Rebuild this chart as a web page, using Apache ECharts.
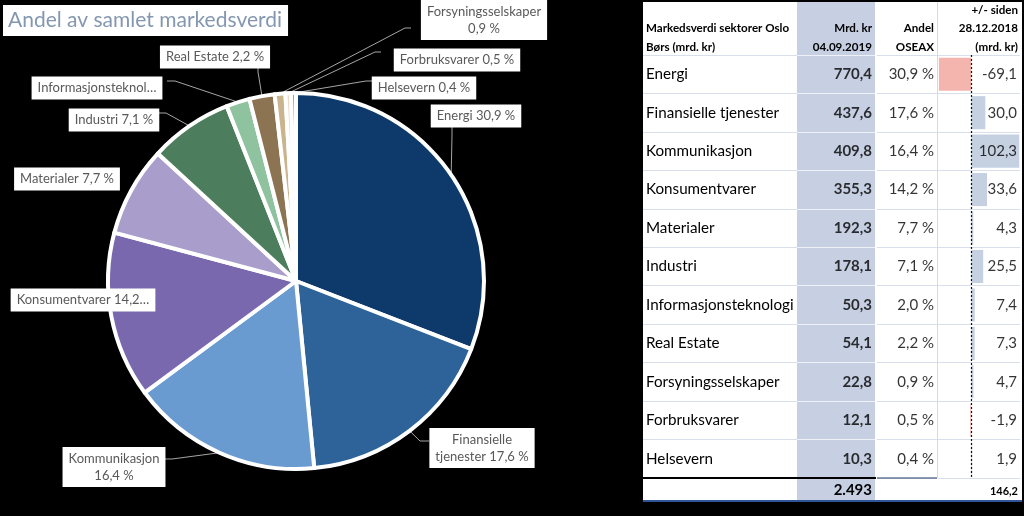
<!DOCTYPE html>
<html><head><meta charset="utf-8">
<script src="https://cdn.jsdelivr.net/npm/echarts@6/dist/echarts.min.js"></script>
<style>html,body{margin:0;padding:0;background:#000;}#c{width:1024px;height:516px;}</style>
</head><body><div id="c"></div>
<script>
// ---------- data ----------
const sectors = ['Energi','Finansielle tjenester','Kommunikasjon','Konsumentvarer','Materialer','Industri','Informasjonsteknologi','Real Estate','Forsyningsselskaper','Forbruksvarer','Helsevern'];
const marketValue = [770.4,437.6,409.8,355.3,192.3,178.1,50.3,54.1,22.8,12.1,10.3];
const shareOSEAX = [30.9,17.6,16.4,14.2,7.7,7.1,2.0,2.2,0.9,0.5,0.4];
const changeSince = [-69.1,30.0,102.3,33.6,4.3,25.5,7.4,7.3,4.7,-1.9,1.9];
const totals = ['2.493','146,2'];
const headerName = ['Markedsverdi sektorer Oslo','Børs (mrd. kr)'];
const headerMrd = ['Mrd. kr','04.09.2019'];
const headerAndel = ['Andel','OSEAX'];
const headerChange = ['+/- siden','28.12.2018','(mrd. kr)'];
const chartTitle = 'Andel av samlet markedsverdi';

// ---------- styles / layout ----------
const FONT = 'Lato';
const pieColors = ['#0E3A6B','#2E6399','#6A9BD0','#7A68AE','#A99DCB','#4C7D5C','#8FC29F','#8C7352','#C9B48E','#EADCC8','#E06666'];
const SHADE = '#C6D0E2';
const POS = '#C5D0E1', NEG = '#F4B5AF';
const fmt1 = v => v.toFixed(1).replace('.', ',');
const fmtPct = v => fmt1(v) + ' %';

// label placement (box centre, text mode, guide line elbow/end)
const labelPlan = [
  {x:476, y:116, mode:'one',   line:[[452,135],[452,126]]},
  {x:482, y:448, mode:'word',  line:[[420,441],[429,441]]},
  {x:114, y:467, mode:'pct',   line:[[172,459],[164,459]]},
  {x:83,  y:300, mode:'cut19', line:null},
  {x:67,  y:179, mode:'one',   line:null},
  {x:114, y:120, mode:'one',   line:[[166,113],[159,113]]},
  {x:97,  y:88,  mode:'cut18', line:[[175,81],[167,81]]},
  {x:215, y:57,  mode:'one',   line:[[258,72],[258,68]]},
  {x:484, y:20,  mode:'pct',   line:[[405,28],[411,28]]},
  {x:457, y:60,  mode:'one',   line:[[375,52],[381,52]]},
  {x:424, y:88,  mode:'one',   line:[[366,81],[372,81]]}
];
function pieText(i){
  const name = sectors[i], pct = fmtPct(shareOSEAX[i]);
  const m = labelPlan[i].mode;
  if (m === 'word') { const k = name.indexOf(' '); return name.slice(0,k) + '\n' + name.slice(k+1) + ' ' + pct; }
  if (m === 'pct') return name + '\n' + pct;
  if (m.startsWith('cut')) { const n = +m.slice(3); return (name + ' ' + pct).slice(0, n) + '…'; }
  return name + ' ' + pct;
}

// table geometry
const T_TOP = 55, T_H = 423;
const cols = [
  {left:643, width:154},
  {left:797, width:78},
  {left:877, width:60},
  {left:938, width:82}
];
const CH_MIN = -71, CH_MAX = 104;

const grids = cols.map(c => ({left:c.left, top:T_TOP, width:c.width, height:T_H, outerBoundsMode:'none', containLabel:false}));
const yAxes = cols.map((c, i) => ({
  type:'category', gridIndex:i, data:sectors, inverse:true,
  axisLine:{show:false}, axisTick:{show:false},
  axisLabel:{show:i===0, inside:true, margin:3, interval:0, color:'#000', fontFamily:FONT, fontSize:15.2},
  splitLine:{show:true, interval:0, lineStyle:{color: i===1 ? '#EEF2F8' : '#D8DFEA', width:1}}
}));
const xAxes = cols.map((c, i) => ({
  type:'value', gridIndex:i, show:false,
  min: i===3 ? CH_MIN : 0, max: i===3 ? CH_MAX : 1,
  splitLine:{show:false}
}));

const textCol = (gi, xPos, arr, fmt, bold) => ({
  type:'scatter', xAxisIndex:gi, yAxisIndex:gi, symbolSize:0, silent:true,
  data: arr.map((v, i) => [xPos, i]),
  label:{show:true, position:'left', distance:3, color:'#000', fontFamily:FONT, fontSize:15,
         fontWeight: bold ? 'bold' : 'normal',
         formatter: p => fmt(arr[p.dataIndex])}
});

const hText = (t, x, y, align) => ({
  type:'text', z:5, silent:true,
  style:{text:t, x:x, y:y, align:align, verticalAlign:'middle', textAlign:align, textVerticalAlign:'middle',
         font:'bold 11.6px ' + FONT, fill:'#000'}
});

const graphics = [
  {type:'rect', z:-10, silent:true, shape:{x:643, y:2, width:379, height:500}, style:{fill:'#fff'}},
  {type:'rect', z:-9, silent:true, shape:{x:797, y:2, width:78, height:500}, style:{fill:SHADE}},
  {type:'line', z:1, silent:true, shape:{x1:937.5, y1:2, x2:937.5, y2:478}, style:{stroke:'#D3DAE5', lineWidth:1}},
  {type:'line', z:3, silent:true, shape:{x1:643, y1:478, x2:876, y2:478}, style:{stroke:'#000', lineWidth:2}},
  {type:'line', z:3, silent:true, shape:{x1:877, y1:478, x2:937, y2:478}, style:{stroke:'#1F3864', lineWidth:1}},
  {type:'line', z:3, silent:true, shape:{x1:643, y1:501, x2:1022, y2:501}, style:{stroke:'#2F5597', lineWidth:2}},
  hText(headerName[0], 646, 28, 'left'),
  hText(headerName[1], 646, 47, 'left'),
  hText(headerMrd[0], 872, 28, 'right'),
  hText(headerMrd[1], 872, 47, 'right'),
  hText(headerAndel[0], 934, 28, 'right'),
  hText(headerAndel[1], 934, 47, 'right'),
  hText(headerChange[0], 1018, 10, 'right'),
  hText(headerChange[1], 1018, 28, 'right'),
  hText(headerChange[2], 1018, 47, 'right'),
  {type:'text', z:5, silent:true, style:{text:totals[0], x:872, y:490, align:'right', verticalAlign:'middle', textAlign:'right', textVerticalAlign:'middle', font:'bold 15px ' + FONT, fill:'#000'}},
  {type:'text', z:5, silent:true, style:{text:totals[1], x:1018, y:491, align:'right', verticalAlign:'middle', textAlign:'right', textVerticalAlign:'middle', font:'bold 11px ' + FONT, fill:'#000'}}
];

const chart = echarts.init(document.getElementById('c'), null, {renderer:'canvas'});
chart.setOption({
  backgroundColor:'#000',
  animation:false,
  textStyle:{fontFamily:FONT},
  title:{text:chartTitle, left:3, top:5, backgroundColor:'#fff', padding:[5,6,5,5],
         textStyle:{color:'#8497B0', fontSize:21, fontWeight:'normal', fontFamily:FONT}},
  grid:grids, xAxis:xAxes, yAxis:yAxes,
  graphic:{elements:graphics},
  series:[
    {
      type:'pie', center:[296, 281], radius:188, startAngle:90, clockwise:true,
      avoidLabelOverlap:false, silent:true,
      data: sectors.map((s, i) => ({
        name:s, value:marketValue[i],
        itemStyle:{color:pieColors[i]},
        labelLine:{show: labelPlan[i].line !== null}
      })),
      itemStyle:{borderColor:'#fff', borderWidth:4},
      label:{show:true, position:'outside', backgroundColor:'#fff', padding:[3,6], color:'#595959',
             fontFamily:FONT, fontSize:13, lineHeight:17, align:'center',
             formatter: p => pieText(p.dataIndex)},
      labelLine:{show:true, length:8, length2:8, smooth:false, lineStyle:{color:'#A6A6A6', width:1}},
      labelLayout: function(params){
        const L = labelPlan[params.dataIndex];
        const out = {x:L.x, y:L.y, align:'center', verticalAlign:'middle'};
        if (L.line && params.labelLinePoints) {
          out.labelLinePoints = [params.labelLinePoints[0], L.line[0], L.line[1]];
        }
        return out;
      }
    },
    {
      type:'bar', xAxisIndex:3, yAxisIndex:3, barWidth:'86%', silent:true,
      data: changeSince.map(v => ({value:v, itemStyle:{color: v < 0 ? NEG : POS}})),
      markLine:{symbol:'none', silent:true, label:{show:false},
                lineStyle:{type:[2,2], color:'#111', width:1.2},
                data:[{xAxis:0}]}
    },
    textCol(1, 1, marketValue, fmt1, true),
    textCol(2, 1, shareOSEAX, fmtPct, false),
    textCol(3, CH_MAX, changeSince, fmt1, false)
  ]
});
</script>
</body></html>
